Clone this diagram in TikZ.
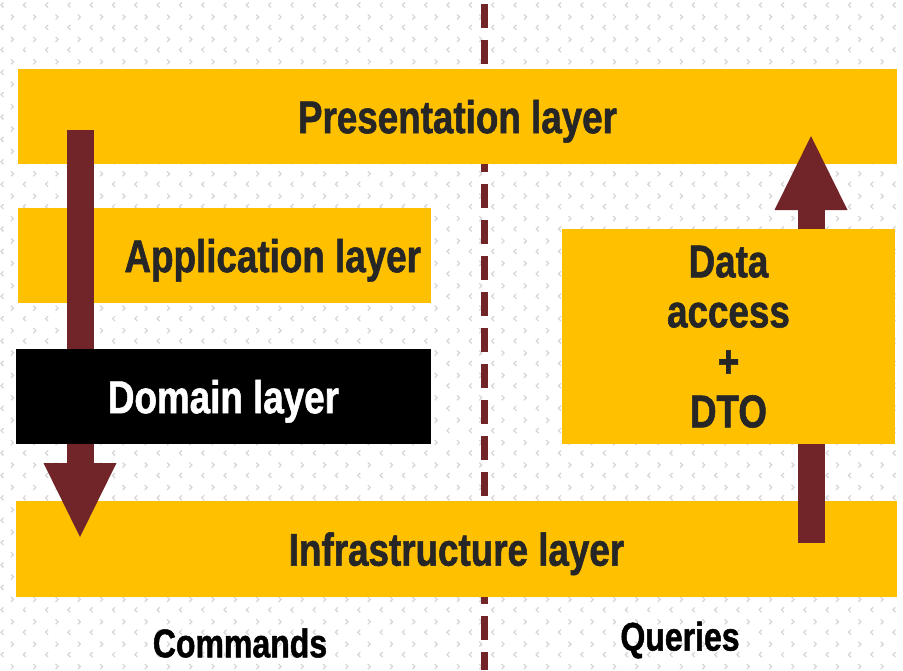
\documentclass[tikz,border=0pt]{standalone}
\usepackage{fontspec}
\setmainfont{Liberation Sans}[FakeStretch=0.8, BoldFeatures={FakeBold=1.2}]
\usetikzlibrary{arrows.meta}

\definecolor{layeryellow}{HTML}{FFC000}
\definecolor{arrowred}{HTML}{722529}
\definecolor{labelgray}{HTML}{262626}

\tikzset{
  layer/.style={fill=layeryellow, inner sep=0pt, text=labelgray, text depth=0pt,
    font=\bfseries\fontsize{46}{50}\selectfont},
  flow/.style={draw=arrowred, line width=27pt,
    -{Triangle[length=74pt,width=73pt,line width=0pt]}},
  divider/.style={draw=arrowred, line width=7pt, dash pattern=on 24pt off 12pt},
  side/.style={font=\bfseries\fontsize{40}{44}\selectfont},
  chev/.style={draw=black!16, line width=1.2pt}
}

\begin{document}
\begin{tikzpicture}[x=1pt,y=-1pt]
                \useasboundingbox (0,0) rectangle (903,670);
                \fill[white] (0,0) rectangle (903,670);
                % Background chevrons
                \foreach \i in {0,...,41}
                  \foreach \j in {0,...,30} {
                    \draw[chev] ({\i*22.3+3.5},{\j*22.4+2.5}) -- ({\i*22.3+1},{\j*22.4+5}) -- ({\i*22.3+3.5},{\j*22.4+7.5});
                    \draw[chev] ({\i*22.3+11},{\j*22.4+14.5}) -- ({\i*22.3+13.5},{\j*22.4+17}) -- ({\i*22.3+11},{\j*22.4+19.5});
                  }

                % Dividing line
                \coordinate (divtop) at (484,4);
                \coordinate (divbot) at (484,670);
                \draw[divider] (divtop) -- (divbot);

                % Layers
                \node[layer, minimum width=879pt, minimum height=95pt] (pres) at (457.5,116.5) {Presentation layer};
                \node[layer, minimum width=413pt, minimum height=95pt] (app) at (224.5,255.5) {};
                \node[layer, fill=none, anchor=east] (apptext) at ([xshift=-10pt]app.east) {Application layer};
                \node[layer, minimum width=881pt, minimum height=96pt] (infra) at (456.5,549) {Infrastructure layer};

                % Commands and queries
                \coordinate (cmdtop) at (80,130);
                \coordinate (cmdtip) at (80,537);
                \draw[flow] (cmdtop) -- (cmdtip);
                \coordinate (qrybot) at (811,543);
                \coordinate (qrytip) at (811,136);
                \draw[flow] (qrybot) -- (qrytip);

                \node[layer, fill=black, text=white, minimum width=415pt, minimum height=95pt] (dom) at (223.5,396.5) {Domain layer};
                \node[layer, minimum width=333pt, minimum height=215pt, align=center] (data) at (728.5,336.5) {Data\\access\\+\\DTO};

                \node[side] (cmd) at (240,643) {Commands};
                \node[side] (qry) at (680,640) {Queries};
              \end{tikzpicture}
\end{document}
